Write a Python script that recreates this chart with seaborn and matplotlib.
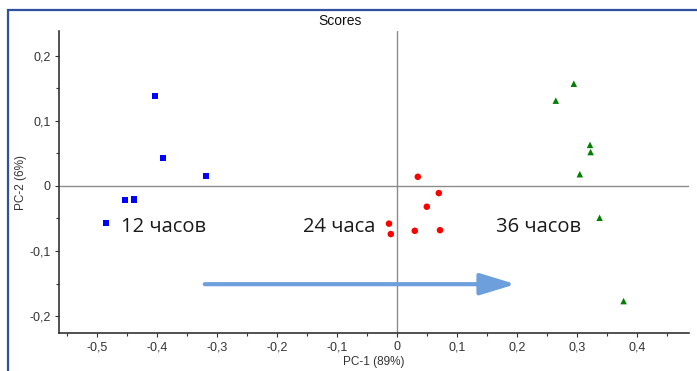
import matplotlib
matplotlib.use("Agg")
import matplotlib.pyplot as plt
import seaborn as sns
import pandas as pd
from matplotlib.patches import Rectangle
from matplotlib.ticker import FixedLocator, MultipleLocator

# ---- data ----
groups = ["12 часов"] * 6 + ["24 часа"] * 7 + ["36 часов"] * 7
pc1 = [-0.403, -0.390, -0.318, -0.453, -0.438, -0.485,
       0.035, 0.070, 0.050, -0.013, -0.010, 0.030, 0.072,
       0.295, 0.265, 0.322, 0.323, 0.305, 0.338, 0.378]
pc2 = [0.138, 0.043, 0.015, -0.022, -0.021, -0.057,
       0.014, -0.011, -0.032, -0.058, -0.074, -0.069, -0.068,
       0.157, 0.131, 0.063, 0.052, 0.018, -0.049, -0.177]
group_names = ["12 часов", "24 часа", "36 часов"]
x_ticks = [-0.5, -0.4, -0.3, -0.2, -0.1, 0, 0.1, 0.2, 0.3, 0.4]
x_tick_labels = ["-0,5", "-0,4", "-0,3", "-0,2", "-0,1", "0", "0,1", "0,2", "0,3", "0,4"]
y_ticks = [-0.2, -0.1, 0, 0.1, 0.2]
y_tick_labels = ["-0,2", "-0,1", "0", "0,1", "0,2"]
arrow_start = (-0.32, -0.151)
arrow_end = (0.198, -0.151)

df = pd.DataFrame({"PC1": pc1, "PC2": pc2, "group": groups})

sns.set_theme(style="white")
plt.rcParams["font.family"] = ["Liberation Sans", "DejaVu Sans"]

fig = plt.figure(figsize=(6.97, 3.71), dpi=100)
ax = fig.add_axes([59 / 697, 1 - 333 / 371, (689 - 59) / 697, (333 - 31) / 371])

palette = {"12 часов": "#0000ff", "24 часа": "#ff0000", "36 часов": "#007f00"}
markers = {"12 часов": "s", "24 часа": "o", "36 часов": "^"}
sns.scatterplot(data=df, x="PC1", y="PC2", hue="group", style="group",
                palette=palette, markers=markers, s=22, linewidth=0,
                legend=False, ax=ax, zorder=3)

ax.set_xlim(-0.563, 0.487)
ax.set_ylim(-0.226, 0.238)

ax.axhline(0, color="#8c8c8c", lw=1, zorder=1)
ax.axvline(0, color="#8c8c8c", lw=1, zorder=1)

for s in ["top", "right"]:
    ax.spines[s].set_visible(False)
for s in ["left", "bottom"]:
    ax.spines[s].set_color("#333333")
    ax.spines[s].set_linewidth(1.2)

ax.xaxis.set_major_locator(FixedLocator(x_ticks))
ax.set_xticklabels(x_tick_labels)
ax.yaxis.set_major_locator(FixedLocator(y_ticks))
ax.set_yticklabels(y_tick_labels)
ax.xaxis.set_minor_locator(MultipleLocator(0.05))
ax.yaxis.set_minor_locator(MultipleLocator(0.05))
ax.tick_params(which="both", direction="out", length=3, width=0.8, color="#333333",
               bottom=True, left=True, labelsize=9, labelcolor="#333333", pad=3)
ax.tick_params(which="minor", length=2)

ax.set_xlabel("PC-1 (89%)", fontsize=8.5, color="#333333", labelpad=2)
ax.set_ylabel("PC-2 (6%)", fontsize=8.5, color="#333333", labelpad=2)
fig.text(340 / 697, 1 - 21 / 371, "Scores", ha="center", va="center",
         fontsize=10, color="#111111")

ax.annotate("", xy=arrow_end, xytext=arrow_start,
            arrowprops=dict(arrowstyle="-|>,head_length=1.8,head_width=0.55",
                            color="#6d9fdc", lw=3, shrinkA=0, shrinkB=0))

label_pos = {"12 часов": (-0.46, -0.063), "24 часа": (-0.157, -0.063), "36 часов": (0.165, -0.063)}
for g in group_names:
    x, y = label_pos[g]
    ax.text(x, y, g, fontsize=14.5, family=["Open Sans", "DejaVu Sans"],
            color="#1a1a1a", ha="left", va="center")

# blue frame
fig.patches.append(Rectangle((7.5 / 697, -0.05), 1.2, 1 - 10 / 371 + 0.05,
                             transform=fig.transFigure, fill=False,
                             edgecolor="#2f4f9f", lw=1.6))

fig.savefig("out.png", dpi=100)
